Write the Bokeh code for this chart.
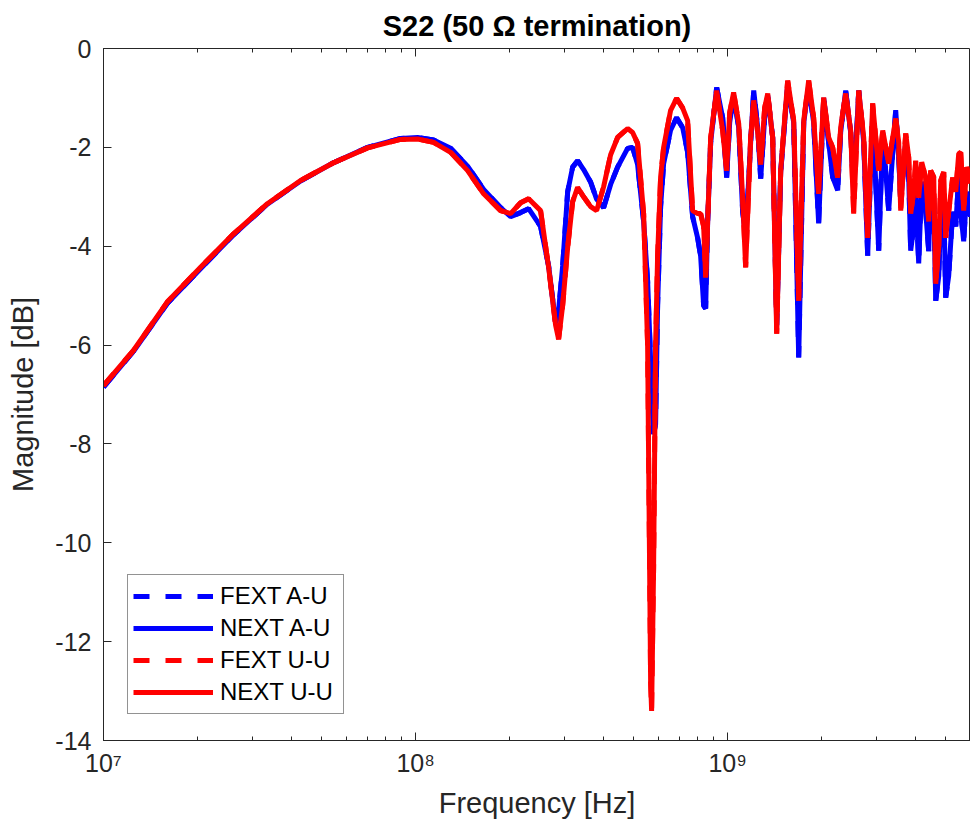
from bokeh.plotting import figure
from bokeh.models import FixedTicker, LogAxis, Legend, LegendItem, Range1d
from bokeh.embed import file_html
from bokeh.resources import INLINE

# ---------------- data ----------------
freq_hz = [
    1.0e7, 1.25e7, 1.60e7, 2.05e7, 2.61e7, 3.35e7, 4.28e7, 5.46e7, 7.02e7, 8.95e7,
    1.015e8, 1.142e8, 1.295e8, 1.468e8, 1.652e8, 1.873e8, 2.016e8, 2.170e8, 2.303e8, 2.515e8,
    2.669e8, 2.810e8, 2.873e8, 2.960e8, 3.071e8, 3.186e8, 3.305e8, 3.455e8, 3.638e8, 3.803e8,
    4.004e8, 4.217e8, 4.440e8, 4.780e8, 4.960e8, 5.146e8, 5.380e8, 5.540e8, 5.664e8, 5.706e8,
    5.791e8, 5.877e8, 5.964e8, 6.098e8, 6.235e8, 6.565e8, 6.862e8, 7.174e8, 7.443e8, 7.722e8,
    8.013e8, 8.193e8, 8.377e8, 8.502e8, 8.629e8, 8.823e8, 9.221e8, 9.638e8, 9.926e8, 1.015e9,
    1.045e9, 1.085e9, 1.117e9, 1.142e9, 1.185e9, 1.212e9, 1.248e9, 1.276e9, 1.314e9, 1.344e9,
    1.394e9, 1.436e9, 1.479e9, 1.557e9, 1.628e9, 1.689e9, 1.753e9, 1.818e9, 1.886e9, 1.957e9,
    2.031e9, 2.107e9, 2.170e9, 2.252e9, 2.302e9, 2.389e9, 2.479e9, 2.534e9, 2.630e9, 2.729e9,
    2.810e9, 2.915e9, 3.048e9, 3.140e9, 3.281e9, 3.455e9, 3.533e9, 3.585e9, 3.720e9, 3.803e9,
    3.859e9, 3.947e9, 4.004e9, 4.094e9, 4.186e9, 4.311e9, 4.408e9, 4.472e9, 4.575e9, 4.642e9,
    4.747e9, 4.816e9, 4.925e9, 4.996e9, 5.108e9, 5.261e9, 5.381e9, 5.500e9, 5.582e9, 5.706e9,
    5.834e9, 6.0e9,
]

next_au_db = [
    -6.85, -6.12, -5.16, -4.45, -3.77, -3.15, -2.68, -2.31, -2.00, -1.82,
    -1.80, -1.85, -2.02, -2.38, -2.85, -3.22, -3.40, -3.32, -3.24, -3.60,
    -4.40, -5.55, -5.30, -4.40, -2.90, -2.40, -2.27, -2.45, -2.70, -3.05,
    -3.22, -2.75, -2.40, -2.02, -2.00, -2.35, -3.50, -4.70, -6.30, -7.00,
    -7.80, -7.60, -5.20, -3.20, -2.33, -1.65, -1.40, -1.60, -2.10, -3.40,
    -3.83, -4.20, -5.20, -5.26, -3.50, -1.90, -0.79, -1.40, -2.61, -1.50,
    -0.95, -1.60, -3.30, -3.80, -1.90, -0.85, -1.60, -2.63, -1.40, -0.95,
    -1.80, -5.60, -2.50, -0.75, -1.50, -6.25, -1.50, -0.75, -1.50, -3.54,
    -1.00, -1.90, -2.60, -2.87, -1.70, -0.85, -1.70, -2.90, -0.85, -1.90,
    -4.19, -1.30, -4.09, -1.70, -3.28, -1.25, -2.20, -3.10, -1.90, -2.60,
    -4.09, -3.60, -2.90, -4.35, -2.70, -3.30, -4.10, -2.80, -3.00, -5.10,
    -4.60, -3.30, -3.10, -5.04, -4.60, -3.30, -3.60, -2.60, -3.30, -3.90,
    -2.90, -3.40,
]

next_uu_db = [
    -6.82, -6.10, -5.13, -4.42, -3.75, -3.14, -2.67, -2.31, -2.01, -1.84,
    -1.83, -1.90, -2.10, -2.47, -2.94, -3.28, -3.34, -3.12, -3.04, -3.28,
    -4.43, -5.60, -5.88, -5.20, -4.03, -3.10, -2.81, -3.00, -3.20, -3.28,
    -2.80, -2.15, -1.80, -1.62, -1.70, -1.92, -3.34, -6.00, -12.8, -13.4,
    -10.5, -6.00, -4.20, -2.60, -2.00, -1.25, -1.01, -1.20, -1.46, -3.28,
    -3.34, -3.34, -3.60, -4.63, -3.50, -1.80, -0.85, -1.66, -2.47, -1.30,
    -0.89, -1.52, -3.02, -4.43, -1.80, -1.05, -1.70, -2.35, -1.20, -0.91,
    -1.80, -5.77, -2.47, -0.65, -1.46, -5.10, -1.46, -0.65, -1.40, -2.94,
    -0.99, -1.80, -2.00, -2.61, -1.60, -0.91, -1.66, -3.34, -0.85, -1.80,
    -3.83, -1.11, -2.47, -1.66, -2.33, -1.42, -1.90, -3.28, -1.72, -2.20,
    -3.34, -2.90, -2.27, -3.02, -2.30, -2.61, -3.50, -2.47, -2.60, -4.76,
    -4.00, -2.67, -2.50, -3.83, -3.30, -2.61, -2.90, -2.13, -2.10, -3.28,
    -2.40, -2.73,
]

# FEXT traces coincide with the NEXT traces in the picture (hidden underneath)
fext_au_db = list(next_au_db)
fext_uu_db = list(next_uu_db)

x_major_ticks = [1e7, 1e8, 1e9]
x_major_labels = {1e7: "10\u2077", 1e8: "10\u2078", 1e9: "10\u2079"}
y_ticks = [-14, -12, -10, -8, -6, -4, -2, 0]
y_labels = {t: str(t) for t in y_ticks}

# ---------------- figure ----------------
FONT = "Liberation Sans"
AX = "#262626"

p = figure(
    width=970, height=829,
    x_axis_type="log",
    x_range=Range1d(1e7, 6.0e9), y_range=Range1d(-14, 0),
    output_backend="svg", toolbar_location=None,
    min_border_left=103, min_border_right=0, min_border_top=48, min_border_bottom=89,
    title="S22 (50 \u03a9 termination)",
)
p.background_fill_color = "white"
p.border_fill_color = "white"
p.outline_line_color = AX
p.outline_line_width = 1
p.xgrid.visible = False
p.ygrid.visible = False

p.title.align = "center"
p.title.text_font = FONT
p.title.text_font_size = "29px"
p.title.text_font_style = "bold"
p.title.text_color = "#000000"
p.title.standoff = 14

minor = [m * 10 ** e for e in (7, 8, 9) for m in range(2, 10) if m * 10 ** e <= 6.0e9]

xa = p.xaxis[0]
xa.ticker = FixedTicker(ticks=x_major_ticks, minor_ticks=minor)
xa.major_label_overrides = x_major_labels
xa.axis_label = "Frequency [Hz]"
ya = p.yaxis[0]
ya.ticker = FixedTicker(ticks=y_ticks)
ya.major_label_overrides = y_labels
ya.axis_label = "Magnitude [dB]"

for ax in (xa, ya):
    ax.axis_line_color = AX
    ax.major_tick_line_color = AX
    ax.minor_tick_line_color = AX
    ax.major_tick_in = 8
    ax.major_tick_out = 0
    ax.minor_tick_in = 4
    ax.minor_tick_out = 0
    ax.major_label_text_font = FONT
    ax.major_label_text_font_size = "25px"
    ax.major_label_text_color = AX
    ax.axis_label_text_font = FONT
    ax.axis_label_text_font_size = "29px"
    ax.axis_label_text_font_style = "normal"
    ax.axis_label_text_color = AX
xa.major_label_standoff = 8
xa.axis_label_standoff = 7
ya.major_label_standoff = 12
ya.axis_label_standoff = 13

# top axis: ticks only (box style), labels invisible
top = LogAxis(ticker=FixedTicker(ticks=x_major_ticks, minor_ticks=minor))
top.major_label_text_font_size = "2px"
top.major_label_text_alpha = 0
top.major_label_standoff = 0
top.axis_line_color = None
top.major_tick_line_color = AX
top.minor_tick_line_color = AX
top.major_tick_in = 8
top.major_tick_out = 0
top.minor_tick_in = 4
top.minor_tick_out = 0
p.add_layout(top, "above")

# ---------------- traces ----------------
LW = 5
r1 = p.line(freq_hz, fext_au_db, line_color="#0000ff", line_width=LW, line_dash="16 16")
r2 = p.line(freq_hz, next_au_db, line_color="#0000ff", line_width=LW)
r3 = p.line(freq_hz, fext_uu_db, line_color="#ff0000", line_width=LW, line_dash="16 16")
r4 = p.line(freq_hz, next_uu_db, line_color="#ff0000", line_width=LW)

legend = Legend(
    items=[
        LegendItem(label="FEXT A-U", renderers=[r1]),
        LegendItem(label="NEXT A-U", renderers=[r2]),
        LegendItem(label="FEXT U-U", renderers=[r3]),
        LegendItem(label="NEXT U-U", renderers=[r4]),
    ],
    location=(24, 26),
    margin=0,
    padding=5,
    spacing=0,
    glyph_width=80,
    glyph_height=32,
    label_height=32,
    label_width=118,
    label_standoff=7,
    label_text_font=FONT,
    label_text_font_size="24px",
    label_text_color="#000000",
    border_line_color=AX,
    border_line_width=1,
    background_fill_color="white",
    background_fill_alpha=1.0,
)
p.add_layout(legend, "center")

open("out.html", "w").write(file_html(p, INLINE))
